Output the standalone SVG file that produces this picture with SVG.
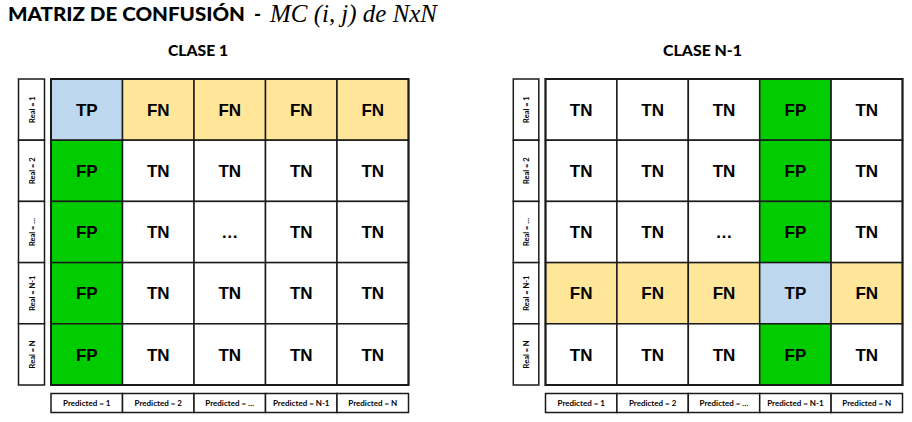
<svg xmlns="http://www.w3.org/2000/svg" width="912" height="422" viewBox="0 0 912 422">
<style>
.c{stroke:#1a1a1a;stroke-width:1.5}
.w{fill:#ffffff}.b{fill:#bdd7ee}.y{fill:#ffe699}.g{fill:#00cc00}
.t{font-family:"Liberation Sans",Arial,sans-serif;font-weight:bold;font-size:17px;fill:#000;text-anchor:middle}
.lbl{font-family:Lato,"Open Sans",sans-serif;font-weight:bold;font-size:7.5px;fill:#000;text-anchor:middle}
.pl{font-family:Lato,"Open Sans",sans-serif;font-weight:bold;font-size:8px;fill:#000;text-anchor:middle}
.h{font-family:Lato,"Open Sans",sans-serif;font-weight:900;font-size:15px;fill:#000;text-anchor:middle}
</style>
<rect width="912" height="422" fill="#ffffff"/>
<g id="title">
<text x="8" y="21" font-family="Lato,'Open Sans',sans-serif" font-weight="900" font-size="19.5" textLength="237" lengthAdjust="spacingAndGlyphs">MATRIZ DE CONFUSIÓN</text>
<text x="254" y="21" font-family="Lato,'Open Sans',sans-serif" font-weight="900" font-size="19">-</text>
<text x="270" y="22" font-family="'Liberation Serif','Times New Roman',serif" font-style="italic" font-size="24.5" textLength="167" lengthAdjust="spacingAndGlyphs">MC (i, j) de NxN</text>
</g>

<g id="matrix-clase-1">
<text class="h" x="198" y="56" textLength="60" lengthAdjust="spacingAndGlyphs">CLASE 1</text>
<g id="m1-rowlabels">
<rect class="c w" x="18.5" y="79" width="26" height="61.2"/>
<rect class="c w" x="18.5" y="140.2" width="26" height="61.2"/>
<rect class="c w" x="18.5" y="201.4" width="26" height="61.2"/>
<rect class="c w" x="18.5" y="262.6" width="26" height="61.2"/>
<rect class="c w" x="18.5" y="323.8" width="26" height="61.2"/>
<text class="lbl" transform="translate(34.5,109.6) rotate(-90)">Real = 1</text>
<text class="lbl" transform="translate(34.5,170.8) rotate(-90)">Real = 2</text>
<text class="lbl" transform="translate(34.5,232) rotate(-90)">Real = …</text>
<text class="lbl" transform="translate(34.5,293.2) rotate(-90)">Real = N-1</text>
<text class="lbl" transform="translate(34.5,354.4) rotate(-90)">Real = N</text>
</g>
<g id="m1-cells">
<rect class="c b" x="51" y="79" width="71.5" height="61.2"/>
<rect class="c y" x="122.5" y="79" width="71.5" height="61.2"/>
<rect class="c y" x="194" y="79" width="71.5" height="61.2"/>
<rect class="c y" x="265.5" y="79" width="71.5" height="61.2"/>
<rect class="c y" x="337" y="79" width="71.5" height="61.2"/>
<rect class="c g" x="51" y="140.2" width="71.5" height="61.2"/>
<rect class="c w" x="122.5" y="140.2" width="71.5" height="61.2"/>
<rect class="c w" x="194" y="140.2" width="71.5" height="61.2"/>
<rect class="c w" x="265.5" y="140.2" width="71.5" height="61.2"/>
<rect class="c w" x="337" y="140.2" width="71.5" height="61.2"/>
<rect class="c g" x="51" y="201.4" width="71.5" height="61.2"/>
<rect class="c w" x="122.5" y="201.4" width="71.5" height="61.2"/>
<rect class="c w" x="194" y="201.4" width="71.5" height="61.2"/>
<rect class="c w" x="265.5" y="201.4" width="71.5" height="61.2"/>
<rect class="c w" x="337" y="201.4" width="71.5" height="61.2"/>
<rect class="c g" x="51" y="262.6" width="71.5" height="61.2"/>
<rect class="c w" x="122.5" y="262.6" width="71.5" height="61.2"/>
<rect class="c w" x="194" y="262.6" width="71.5" height="61.2"/>
<rect class="c w" x="265.5" y="262.6" width="71.5" height="61.2"/>
<rect class="c w" x="337" y="262.6" width="71.5" height="61.2"/>
<rect class="c g" x="51" y="323.8" width="71.5" height="61.2"/>
<rect class="c w" x="122.5" y="323.8" width="71.5" height="61.2"/>
<rect class="c w" x="194" y="323.8" width="71.5" height="61.2"/>
<rect class="c w" x="265.5" y="323.8" width="71.5" height="61.2"/>
<rect class="c w" x="337" y="323.8" width="71.5" height="61.2"/>
<text class="t" x="86.75" y="115.8">TP</text>
<text class="t" x="158.25" y="115.8">FN</text>
<text class="t" x="229.75" y="115.8">FN</text>
<text class="t" x="301.25" y="115.8">FN</text>
<text class="t" x="372.75" y="115.8">FN</text>
<text class="t" x="86.75" y="177">FP</text>
<text class="t" x="158.25" y="177">TN</text>
<text class="t" x="229.75" y="177">TN</text>
<text class="t" x="301.25" y="177">TN</text>
<text class="t" x="372.75" y="177">TN</text>
<text class="t" x="86.75" y="238.2">FP</text>
<text class="t" x="158.25" y="238.2">TN</text>
<text class="t" x="229.75" y="238.2">…</text>
<text class="t" x="301.25" y="238.2">TN</text>
<text class="t" x="372.75" y="238.2">TN</text>
<text class="t" x="86.75" y="299.4">FP</text>
<text class="t" x="158.25" y="299.4">TN</text>
<text class="t" x="229.75" y="299.4">TN</text>
<text class="t" x="301.25" y="299.4">TN</text>
<text class="t" x="372.75" y="299.4">TN</text>
<text class="t" x="86.75" y="360.6">FP</text>
<text class="t" x="158.25" y="360.6">TN</text>
<text class="t" x="229.75" y="360.6">TN</text>
<text class="t" x="301.25" y="360.6">TN</text>
<text class="t" x="372.75" y="360.6">TN</text>
</g>
<rect x="51" y="79" width="357.5" height="306" fill="none" stroke="#1a1a1a" stroke-width="2"/>
<g id="m1-collabels">
<rect class="c w" x="51" y="393.5" width="71.5" height="19"/>
<rect class="c w" x="122.5" y="393.5" width="71.5" height="19"/>
<rect class="c w" x="194" y="393.5" width="71.5" height="19"/>
<rect class="c w" x="265.5" y="393.5" width="71.5" height="19"/>
<rect class="c w" x="337" y="393.5" width="71.5" height="19"/>
<text class="pl" x="86.75" y="405.8">Predicted = 1</text>
<text class="pl" x="158.25" y="405.8">Predicted = 2</text>
<text class="pl" x="229.75" y="405.8">Predicted = …</text>
<text class="pl" x="301.25" y="405.8">Predicted = N-1</text>
<text class="pl" x="372.75" y="405.8">Predicted = N</text>
</g>
</g>

<g id="matrix-clase-n-1">
<text class="h" x="702.5" y="56" textLength="79" lengthAdjust="spacingAndGlyphs">CLASE N-1</text>
<g id="m2-rowlabels">
<rect class="c w" x="513.3" y="79" width="25.5" height="61.2"/>
<rect class="c w" x="513.3" y="140.2" width="25.5" height="61.2"/>
<rect class="c w" x="513.3" y="201.4" width="25.5" height="61.2"/>
<rect class="c w" x="513.3" y="262.6" width="25.5" height="61.2"/>
<rect class="c w" x="513.3" y="323.8" width="25.5" height="61.2"/>
<text class="lbl" transform="translate(529,109.6) rotate(-90)">Real = 1</text>
<text class="lbl" transform="translate(529,170.8) rotate(-90)">Real = 2</text>
<text class="lbl" transform="translate(529,232) rotate(-90)">Real = …</text>
<text class="lbl" transform="translate(529,293.2) rotate(-90)">Real = N-1</text>
<text class="lbl" transform="translate(529,354.4) rotate(-90)">Real = N</text>
</g>
<g id="m2-cells">
<rect class="c w" x="545.5" y="79" width="71.4" height="61.2"/>
<rect class="c w" x="616.9" y="79" width="71.4" height="61.2"/>
<rect class="c w" x="688.3" y="79" width="71.4" height="61.2"/>
<rect class="c g" x="759.7" y="79" width="71.4" height="61.2"/>
<rect class="c w" x="831.1" y="79" width="71.4" height="61.2"/>
<rect class="c w" x="545.5" y="140.2" width="71.4" height="61.2"/>
<rect class="c w" x="616.9" y="140.2" width="71.4" height="61.2"/>
<rect class="c w" x="688.3" y="140.2" width="71.4" height="61.2"/>
<rect class="c g" x="759.7" y="140.2" width="71.4" height="61.2"/>
<rect class="c w" x="831.1" y="140.2" width="71.4" height="61.2"/>
<rect class="c w" x="545.5" y="201.4" width="71.4" height="61.2"/>
<rect class="c w" x="616.9" y="201.4" width="71.4" height="61.2"/>
<rect class="c w" x="688.3" y="201.4" width="71.4" height="61.2"/>
<rect class="c g" x="759.7" y="201.4" width="71.4" height="61.2"/>
<rect class="c w" x="831.1" y="201.4" width="71.4" height="61.2"/>
<rect class="c y" x="545.5" y="262.6" width="71.4" height="61.2"/>
<rect class="c y" x="616.9" y="262.6" width="71.4" height="61.2"/>
<rect class="c y" x="688.3" y="262.6" width="71.4" height="61.2"/>
<rect class="c b" x="759.7" y="262.6" width="71.4" height="61.2"/>
<rect class="c y" x="831.1" y="262.6" width="71.4" height="61.2"/>
<rect class="c w" x="545.5" y="323.8" width="71.4" height="61.2"/>
<rect class="c w" x="616.9" y="323.8" width="71.4" height="61.2"/>
<rect class="c w" x="688.3" y="323.8" width="71.4" height="61.2"/>
<rect class="c g" x="759.7" y="323.8" width="71.4" height="61.2"/>
<rect class="c w" x="831.1" y="323.8" width="71.4" height="61.2"/>
<text class="t" x="581.2" y="115.8">TN</text>
<text class="t" x="652.6" y="115.8">TN</text>
<text class="t" x="724" y="115.8">TN</text>
<text class="t" x="795.4" y="115.8">FP</text>
<text class="t" x="866.8" y="115.8">TN</text>
<text class="t" x="581.2" y="177">TN</text>
<text class="t" x="652.6" y="177">TN</text>
<text class="t" x="724" y="177">TN</text>
<text class="t" x="795.4" y="177">FP</text>
<text class="t" x="866.8" y="177">TN</text>
<text class="t" x="581.2" y="238.2">TN</text>
<text class="t" x="652.6" y="238.2">TN</text>
<text class="t" x="724" y="238.2">…</text>
<text class="t" x="795.4" y="238.2">FP</text>
<text class="t" x="866.8" y="238.2">TN</text>
<text class="t" x="581.2" y="299.4">FN</text>
<text class="t" x="652.6" y="299.4">FN</text>
<text class="t" x="724" y="299.4">FN</text>
<text class="t" x="795.4" y="299.4">TP</text>
<text class="t" x="866.8" y="299.4">FN</text>
<text class="t" x="581.2" y="360.6">TN</text>
<text class="t" x="652.6" y="360.6">TN</text>
<text class="t" x="724" y="360.6">TN</text>
<text class="t" x="795.4" y="360.6">FP</text>
<text class="t" x="866.8" y="360.6">TN</text>
</g>
<rect x="545.5" y="79" width="357" height="306" fill="none" stroke="#1a1a1a" stroke-width="2"/>
<g id="m2-collabels">
<rect class="c w" x="545.5" y="393.5" width="71.4" height="19"/>
<rect class="c w" x="616.9" y="393.5" width="71.4" height="19"/>
<rect class="c w" x="688.3" y="393.5" width="71.4" height="19"/>
<rect class="c w" x="759.7" y="393.5" width="71.4" height="19"/>
<rect class="c w" x="831.1" y="393.5" width="71.4" height="19"/>
<text class="pl" x="581.2" y="405.8">Predicted = 1</text>
<text class="pl" x="652.6" y="405.8">Predicted = 2</text>
<text class="pl" x="724" y="405.8">Predicted = …</text>
<text class="pl" x="795.4" y="405.8">Predicted = N-1</text>
<text class="pl" x="866.8" y="405.8">Predicted = N</text>
</g>
</g>
</svg>
